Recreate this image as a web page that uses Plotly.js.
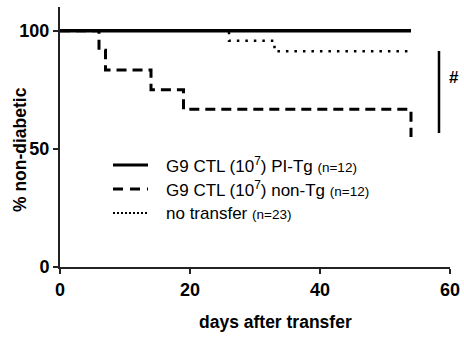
<!DOCTYPE html>
<html><head><meta charset="utf-8">
<script src="https://cdn.plot.ly/plotly-3.0.1.min.js"></script>
<style>html,body{margin:0;padding:0;background:#fff}#chart{width:464px;height:337px}</style>
</head><body><div id="chart"></div>
<script>
// Data (Kaplan-Meier style step curves)
const seriesNames = ["G9 CTL (10<sup>7</sup>) PI-Tg", "G9 CTL (10<sup>7</sup>) non-Tg", "no transfer"];
const seriesN = ["(n=12)", "(n=12)", "(n=23)"];
const piTgDays = [0, 54];
const piTgPct = [100, 100];
const nonTgDays = [0, 6, 7, 14, 19, 54];
const nonTgPct = [100, 91.7, 83.3, 75, 66.7, 55];
const noTransferDays = [0, 26, 33, 54];
const noTransferPct = [100, 95.7, 91.3, 91.3];
const xTicks = [0, 20, 40, 60];
const yTicks = [0, 50, 100];
const sigLabel = "#";

const styles = [
  {width: 3.5, dash: "solid", legDash: "solid", legWidth: 3},
  {width: 3, dash: "10px,6px", legDash: "10px,7px", legWidth: 3},
  {width: 2.5, dash: "2.5px,6px", legDash: "2px,2px", legWidth: 2}
];
const seriesX = [piTgDays, nonTgDays, noTransferDays];
const seriesY = [piTgPct, nonTgPct, noTransferPct];

const order = [2, 1, 0];
const traces = order.map(i => ({
  x: seriesX[i], y: seriesY[i], type: "scatter", mode: "lines",
  line: {shape: "hv", color: "#000", width: styles[i].width, dash: styles[i].dash},
  showlegend: false, hoverinfo: "skip", cliponaxis: false
}));

const pw = 390, ph = 260, L = 60, T = 7;
const px = v => (v - L) / pw;
const py = v => (T + ph - v) / ph;

const shapes = [];
const annotations = [];
const legRows = [165, 189, 213];
seriesNames.forEach((name, i) => {
  shapes.push({type: "line", xref: "paper", yref: "paper", x0: px(113), x1: px(148), y0: py(legRows[i]), y1: py(legRows[i]),
    line: {color: "#000", width: styles[i].legWidth, dash: styles[i].legDash}});
  annotations.push({xref: "paper", yref: "paper", x: px(164), y: py(legRows[i]), xanchor: "left", yanchor: "middle",
    showarrow: false, text: name + " <span style='font-size:13.5px'>" + seriesN[i] + "</span>",
    font: {family: "Liberation Sans, Arial, sans-serif", size: 17, color: "#000"}});
});
// significance bar
shapes.push({type: "line", xref: "paper", yref: "paper", x0: px(439), x1: px(439), y0: py(51), y1: py(133),
  line: {color: "#000", width: 2.5}});
annotations.push({xref: "paper", yref: "paper", x: px(454), y: py(77), xanchor: "center", yanchor: "middle",
  showarrow: false, text: sigLabel, font: {family: "Liberation Sans, Arial, sans-serif", size: 17, weight: "bold", color: "#000"}});
// axis titles
annotations.push({xref: "paper", yref: "paper", x: px(275.5), y: py(322), xanchor: "center", yanchor: "middle",
  showarrow: false, text: "days after transfer", font: {family: "Liberation Sans, Arial, sans-serif", size: 17.5, weight: "bold", color: "#000"}});
annotations.push({xref: "paper", yref: "paper", x: px(20), y: py(150), xanchor: "center", yanchor: "middle", textangle: -90,
  showarrow: false, text: "% non-diabetic", font: {family: "Liberation Sans, Arial, sans-serif", size: 17.5, weight: "bold", color: "#000"}});

const axisCommon = {
  showgrid: false, zeroline: false, showline: true, linecolor: "#222", linewidth: 2,
  ticks: "outside", ticklen: 5, tickwidth: 2, tickcolor: "#222",
  tickfont: {family: "Liberation Sans, Arial, sans-serif", size: 18, weight: "bold", color: "#000"},
  fixedrange: true
};
const layout = {
  width: 464, height: 337,
  margin: {l: L, r: 464 - L - pw, t: T, b: 337 - T - ph},
  paper_bgcolor: "#fff", plot_bgcolor: "#fff",
  showlegend: false,
  xaxis: Object.assign({}, axisCommon, {range: [0, 60], tickvals: xTicks, ticktext: xTicks.map(String)}),
  yaxis: Object.assign({}, axisCommon, {range: [0, 110], tickvals: yTicks, ticktext: yTicks.map(String)}),
  shapes: shapes, annotations: annotations
};
Plotly.newPlot("chart", traces, layout, {staticPlot: true, displayModeBar: false});
</script></body></html>
